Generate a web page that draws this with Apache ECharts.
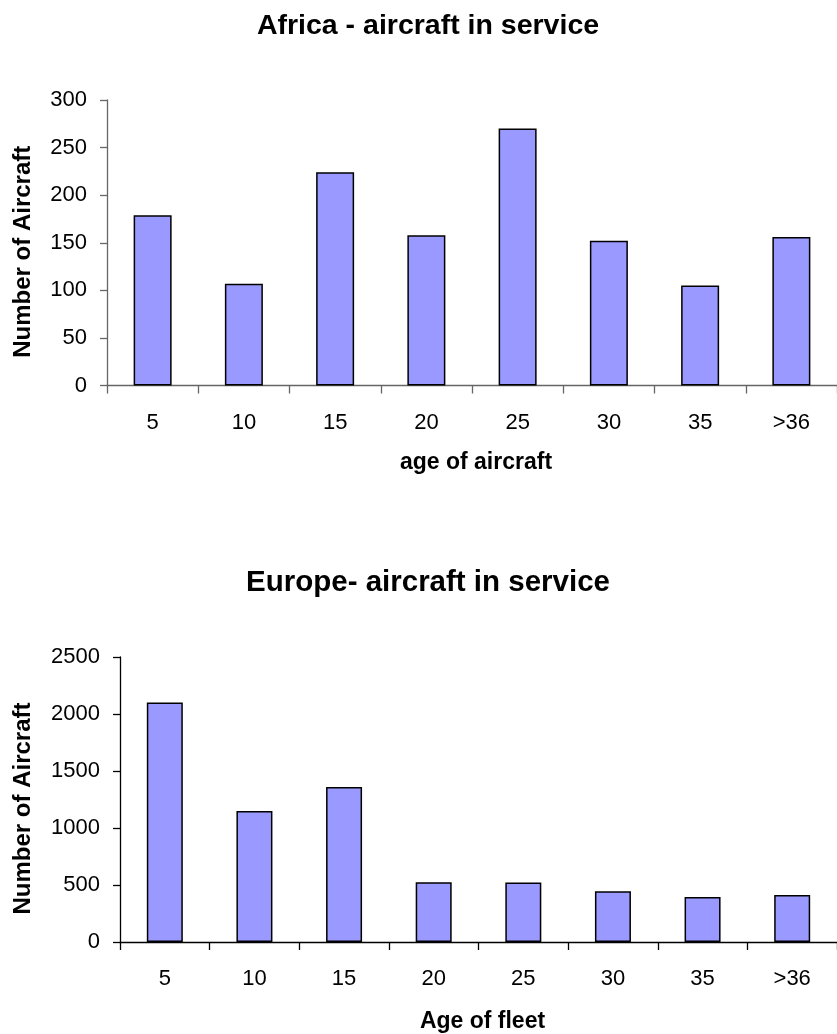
<!DOCTYPE html>
<html>
<head>
<meta charset="utf-8">
<script src="https://cdn.jsdelivr.net/npm/echarts@6/dist/echarts.min.js"></script>
<style>
html,body{margin:0;padding:0;background:#fff;}
#chart{width:837px;height:1034px;}
</style>
</head>
<body>
<div id="chart"></div>
<script>
const categories = ['5', '10', '15', '20', '25', '30', '35', '>36'];
const africaValues = [179, 107, 224, 158, 270, 152, 105, 156];
const europeValues = [2100, 1150, 1360, 525, 523, 445, 395, 412];
const africaTicks = { min: 0, max: 300, interval: 50 };
const europeTicks = { min: 0, max: 2500, interval: 500 };

const FONT = "'Liberation Sans', Arial, sans-serif";
const chart = echarts.init(document.getElementById('chart'), null, { renderer: 'canvas' });

function xAxisCfg(gridIndex, name, color, gap) {
  return {
    type: 'category', gridIndex: gridIndex, data: categories,
    name: name, nameLocation: 'middle', nameGap: gap,
    nameTextStyle: { fontFamily: FONT, fontWeight: 'bold', fontSize: 23, color: '#000', padding: [0, 0, 0, 8] },
    axisLine: { show: true, lineStyle: { color: color, width: 1.3 } },
    axisTick: { show: true, alignWithLabel: false, length: 8, lineStyle: { color: color, width: 1.3 } },
    axisLabel: { fontFamily: FONT, fontSize: 22, color: '#000', margin: 26 },
    splitLine: { show: false }
  };
}
function yAxisCfg(gridIndex, ticks, color, gap) {
  return {
    type: 'value', gridIndex: gridIndex, min: ticks.min, max: ticks.max, interval: ticks.interval,
    name: 'Number of Aircraft', nameLocation: 'middle', nameGap: gap, nameRotate: 90,
    nameTextStyle: { fontFamily: FONT, fontWeight: 'bold', fontSize: 24, color: '#000', padding: [0, 18, 0, 0] },
    axisLine: { show: true, lineStyle: { color: color, width: 1.3 } },
    axisTick: { show: true, length: 7, lineStyle: { color: color, width: 1.3 } },
    axisLabel: { fontFamily: FONT, fontSize: 22, color: '#000', margin: 20, formatter: function (v) { return String(v); } },
    splitLine: { show: false }
  };
}

chart.setOption({
  animation: false,
  backgroundColor: '#fff',
  title: [
    { text: 'Africa - aircraft in service', left: 423, top: 7, textAlign: 'center',
      textStyle: { fontFamily: FONT, fontWeight: 'bold', fontSize: 28.5, color: '#000' } },
    { text: 'Europe- aircraft in service', left: 423, top: 563, textAlign: 'center',
      textStyle: { fontFamily: FONT, fontWeight: 'bold', fontSize: 29.5, color: '#000' } }
  ],
  grid: [
    { left: 107, top: 100, width: 738, height: 285.5 },
    { left: 120, top: 657, width: 723, height: 286.5 }
  ],
  xAxis: [
    xAxisCfg(0, 'age of aircraft', '#666', 66),
    xAxisCfg(1, 'Age of fleet', '#000', 68)
  ],
  yAxis: [
    yAxisCfg(0, africaTicks, '#666', 72),
    yAxisCfg(1, europeTicks, '#000', 85)
  ],
  series: [
    { type: 'bar', xAxisIndex: 0, yAxisIndex: 0, data: africaValues, barWidth: 38,
      itemStyle: { color: '#9999FF', borderColor: '#000', borderWidth: 1.5 } },
    { type: 'bar', xAxisIndex: 1, yAxisIndex: 1, data: europeValues, barWidth: 36,
      itemStyle: { color: '#9999FF', borderColor: '#000', borderWidth: 1.5 } }
  ]
});
</script>
</body>
</html>
